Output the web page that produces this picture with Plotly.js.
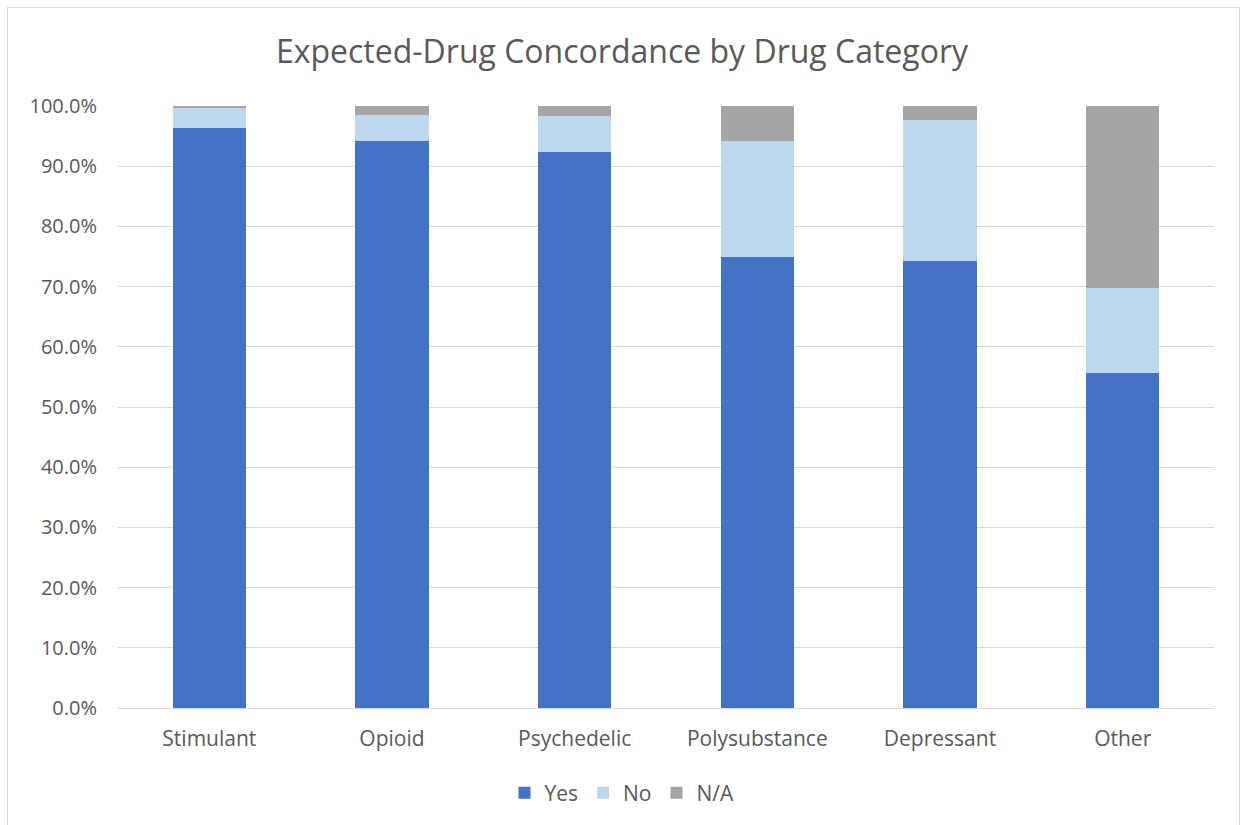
<!DOCTYPE html>
<html>
<head>
<meta charset="utf-8">
<script src="https://cdn.plot.ly/plotly-3.0.1.min.js"></script>
<style>
  html, body { margin: 0; padding: 0; background: #ffffff; }
  #wrap { position: relative; width: 1244px; height: 825px; }
  #chart { width: 1244px; height: 825px; }
  #frame { position: absolute; left: 7px; top: 7px; width: 1233px; height: 830px;
           border: 1px solid #d9d9d9; box-sizing: border-box; pointer-events: none; }
</style>
</head>
<body>
<div id="wrap">
  <div id="chart"></div>
  <div id="frame"></div>
</div>
<script>
// Share of samples where the detected drug matched the expected drug
const categories = ["Stimulant", "Opioid", "Psychedelic", "Polysubstance", "Depressant", "Other"];
const yesShare = [0.964, 0.942, 0.924, 0.750, 0.742, 0.557];
const noShare  = [0.033, 0.043, 0.060, 0.192, 0.235, 0.140];
const naShare  = [0.003, 0.015, 0.016, 0.058, 0.023, 0.303];

const seriesNames  = ["Yes", "No", "N/A"];
const seriesColors = ["#4472C4", "#BDD7EE", "#A5A5A5"];
const seriesValues = [yesShare, noShare, naShare];

const textFont = "Open Sans, Noto Sans, sans-serif";

const traces = seriesValues.map((vals, i) => ({
  type: "bar",
  name: seriesNames[i],
  x: categories,
  y: vals,
  marker: { color: seriesColors[i], line: { width: 0 } },
  hovertemplate: "%{x}: %{y:.1%}<extra>" + seriesNames[i] + "</extra>"
}));

const layout = {
  width: 1244,
  height: 825,
  barmode: "stack",
  bargap: 0.6,
  paper_bgcolor: "#ffffff",
  plot_bgcolor: "#ffffff",
  margin: { l: 118, r: 30, t: 106, b: 117 },
  font: { family: textFont, color: "#595959", size: 20 },
  title: {
    text: "Expected-Drug Concordance by Drug Category",
    font: { family: textFont, size: 32, color: "#595959" },
    x: 0.5, xref: "container", xanchor: "center",
    y: 1 - 52 / 825, yref: "container", yanchor: "middle"
  },
  xaxis: {
    type: "category",
    showgrid: false,
    showline: true,
    linecolor: "#d9d9d9",
    linewidth: 1,
    ticks: "",
    tickfont: { size: 21, color: "#595959" },
    ticklabelstandoff: 12
  },
  yaxis: {
    range: [0, 1],
    dtick: 0.1,
    tick0: 0,
    tickformat: ".1%",
    showgrid: true,
    gridcolor: "#d9d9d9",
    gridwidth: 1,
    zeroline: false,
    showline: false,
    ticks: "",
    tickfont: { size: 20, color: "#595959" },
    ticklabelstandoff: 20
  },
  legend: {
    orientation: "h",
    x: 0.5, xref: "container", xanchor: "center",
    y: 32 / 825, yref: "container", yanchor: "middle",
    font: { size: 21, color: "#595959" },
    itemwidth: 30,
    traceorder: "normal"
  },
  showlegend: true
};

Plotly.newPlot("chart", traces, layout, { displayModeBar: false });
</script>
</body>
</html>
